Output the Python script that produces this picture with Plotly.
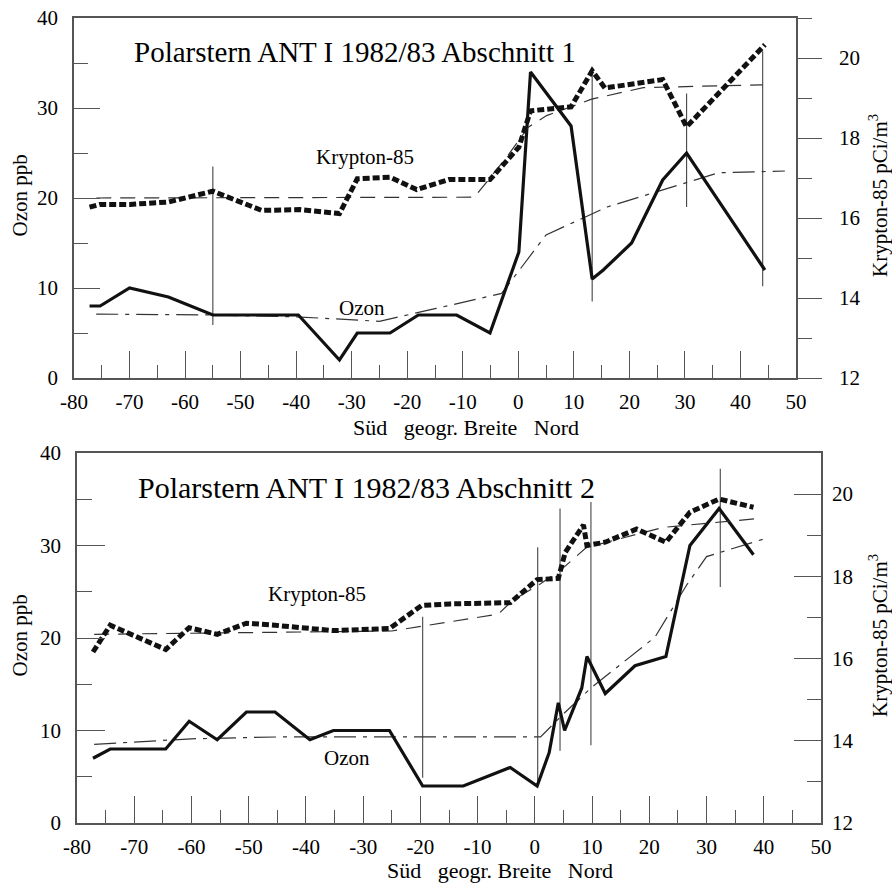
import plotly.graph_objects as go

# ---------------- Data: Abschnitt 1 (top) ----------------
oz1_lat = [-77.2, -75.3, -70.0, -63.0, -55.0, -39.6, -32.2, -29.0, -23.1, -18.0, -11.1, -5.1,
           0.1, 2.2, 9.5, 13.3, 15.3, 20.4, 26.0, 30.3, 44.4]
oz1 = [8, 8, 10, 9, 7, 7, 2, 5, 5, 7, 7, 5, 14, 34, 28, 11, 12, 15, 22, 25, 12]

kr1_lat = [-77.2, -75.3, -69.9, -63.0, -55.0, -46.2, -39.3, -32.2, -29.0, -23.1, -18.3, -12.5,
           -5.1, 0.1, 2.2, 9.5, 13.3, 15.6, 26.0, 30.3, 44.4]
kr1 = [16.27, 16.34, 16.34, 16.40, 16.67, 16.19, 16.21, 16.11, 16.98, 17.02, 16.71, 16.96,
       16.96, 17.77, 18.68, 18.78, 19.68, 19.25, 19.46, 18.28, 20.33]

oz1_trend_lat = [-76, -55, -40, -25, -15, -3, 5, 16, 36, 48]
oz1_trend = [7.1, 7.0, 6.8, 6.3, 7.7, 9.4, 15.9, 19.0, 22.8, 23.0]

kr1_trend_lat = [-76, -7.9, -2.1, 1.8, 5.1, 13.2, 22.5, 44]
kr1_trend = [16.5, 16.52, 17.52, 18.27, 18.56, 18.97, 19.26, 19.33]

bar1_lat = [-55.0, 13.3, 30.3, 44.0]
bar1_lo = [5.9, 8.5, 19.0, 10.2]
bar1_hi = [23.5, 34.4, 31.6, 36.3]

# ---------------- Data: Abschnitt 2 (bottom) ----------------
oz2_lat = [-77.2, -74.2, -64.5, -60.4, -55.5, -50.4, -45.4, -39.3, -35.2, -25.4, -19.6, -12.5,
           -4.3, 0.4, 2.5, 4.1, 5.2, 8.2, 9.1, 12.3, 17.5, 22.9, 27.1, 32.2, 38.2]
oz2 = [7, 8, 8, 11, 9, 12, 12, 9, 10, 10, 4, 4, 6, 4, 7.6, 13, 10, 14.6, 18, 14, 17, 18, 30, 34, 29]

kr2_lat = [-77.2, -74.2, -64.5, -60.4, -55.5, -50.4, -45.4, -39.3, -35.2, -25.4, -19.8, -14.8,
           -4.3, 0.4, 4.1, 5.3, 8.5, 9.1, 12.3, 17.8, 22.9, 27.1, 32.2, 38.2]
kr2 = [16.16, 16.81, 16.22, 16.75, 16.59, 16.86, 16.81, 16.75, 16.68, 16.73, 17.29, 17.33,
       17.36, 17.92, 17.95, 18.58, 19.25, 18.75, 18.83, 19.15, 18.83, 19.56, 19.88, 19.68]

oz2_trend_lat = [-77, -60, -45, 1, 5, 10, 21, 26.5, 30, 40]
oz2_trend = [8.5, 9.1, 9.3, 9.3, 11.8, 14.7, 20.1, 25.7, 28.8, 30.7]

kr2_trend_lat = [-77, -25, -6.4, -4.0, 1.0, 4.4, 9.0, 22.4, 38.5]
kr2_trend = [16.59, 16.67, 17.08, 17.4, 17.82, 18.14, 18.7, 19.19, 19.4]

bar2_lat = [-19.6, 0.5, 4.4, 9.8, 32.4]
bar2_lo = [4.9, 4.1, 7.8, 8.4, 25.5]
bar2_hi = [22.3, 29.8, 34.0, 34.7, 38.3]

# ---------------- Tick labels ----------------
x_tickvals = [-80, -70, -60, -50, -40, -30, -20, -10, 0, 10, 20, 30, 40, 50]
x_ticklabels = ["-80", "-70", "-60", "-50", "-40", "-30", "-20", "-10", "0", "10", "20", "30", "40", "50"]
ozon_tickvals = [0, 10, 20, 30, 40]
ozon_ticklabels = ["0", "10", "20", "30", "40"]
kr_tickvals = [12, 14, 16, 18, 20]
kr_ticklabels = ["12", "14", "16", "18", "20"]

titles = ["Polarstern ANT I 1982/83 Abschnitt 1", "Polarstern ANT I 1982/83 Abschnitt 2"]
x_title = "Süd\u00a0\u00a0\u00a0geogr. Breite\u00a0\u00a0\u00a0Nord"
y_left_title = "Ozon ppb"
y_right_title = "Krypton-85 pCi/m<sup>3</sup>"

FONT = "Liberation Serif"
AX = "#555555"
INK = "#111111"


def bars(lat, lo, hi):
    xs, ys = [], []
    for x, a, b in zip(lat, lo, hi):
        xs += [x, x, None]
        ys += [a, b, None]
    return xs, ys


fig = go.Figure()

for (xa, ya, yb, ol, o, kl, k, otl, ot, ktl, kt, bl, blo, bhi) in [
    ("x", "y", "y2", oz1_lat, oz1, kr1_lat, kr1, oz1_trend_lat, oz1_trend, kr1_trend_lat, kr1_trend,
     bar1_lat, bar1_lo, bar1_hi),
    ("x2", "y3", "y4", oz2_lat, oz2, kr2_lat, kr2, oz2_trend_lat, oz2_trend, kr2_trend_lat, kr2_trend,
     bar2_lat, bar2_lo, bar2_hi),
]:
    bx, by = bars(bl, blo, bhi)
    fig.add_trace(go.Scatter(x=bx, y=by, xaxis=xa, yaxis=ya, mode="lines",
                             line=dict(color="#444444", width=1.1), showlegend=False,
                             hoverinfo="skip"))
    fig.add_trace(go.Scatter(x=otl, y=ot, xaxis=xa, yaxis=ya, mode="lines",
                             line=dict(color="#333333", width=1.2, dash="22px,7px,4px,7px"),
                             showlegend=False))
    fig.add_trace(go.Scatter(x=ktl, y=kt, xaxis=xa, yaxis=yb, mode="lines",
                             line=dict(color="#333333", width=1.2, dash="15px,9px"),
                             showlegend=False))
    fig.add_trace(go.Scatter(x=ol, y=o, xaxis=xa, yaxis=ya, mode="lines", name="Ozon",
                             line=dict(color=INK, width=3.2), showlegend=False))
    fig.add_trace(go.Scatter(x=kl, y=k, xaxis=xa, yaxis=yb, mode="lines", name="Krypton-85",
                             line=dict(color=INK, width=5, dash="7px,3px"), showlegend=False))

W, H = 892, 886
tickfont = dict(family=FONT, size=21, color="black")


def xax(domain, anchor):
    return dict(domain=domain, anchor=anchor, range=[-80, 50], tickmode="array",
                tickvals=x_tickvals, ticktext=x_ticklabels,
                ticks="inside", ticklen=27, tickwidth=1.2, tickcolor=AX,
                minor=dict(dtick=5, tick0=-80, ticks="inside", ticklen=13, tickwidth=1.2, tickcolor=AX),
                showline=True, linecolor=AX, linewidth=1.5, mirror=True,
                showgrid=False, zeroline=False, tickfont=tickfont, automargin=False,
                ticklabelstandoff=4)


def yleft(domain, anchor, tl, ml):
    return dict(domain=domain, anchor=anchor, range=[0, 40], tickmode="array",
                tickvals=ozon_tickvals, ticktext=ozon_ticklabels,
                ticks="inside", ticklen=tl, tickwidth=1.2, tickcolor=AX,
                minor=dict(dtick=5, tick0=0, ticks="inside", ticklen=ml, tickwidth=1.2, tickcolor=AX),
                showline=True, linecolor=AX, linewidth=1.5,
                showgrid=False, zeroline=False, tickfont=tickfont, automargin=False,
                ticklabelstandoff=10)


def yright(over, anchor, where, tl, ml, standoff):
    return dict(overlaying=over, anchor=anchor, side="right", range=[12, 21], tickmode="array",
                tickvals=kr_tickvals, ticktext=kr_ticklabels,
                ticks=where, ticklen=tl, tickwidth=1.2, tickcolor=AX,
                minor=dict(dtick=1, tick0=12, ticks=where, ticklen=ml, tickwidth=1.2, tickcolor=AX),
                showline=True, linecolor=AX, linewidth=1.5,
                showgrid=False, zeroline=False, tickfont=tickfont, automargin=False,
                ticklabelstandoff=standoff)


top_x = [74 / W, 796 / W]
top_y = [1 - 378 / H, 1 - 18 / H]
bot_x = [77 / W, 821 / W]
bot_y = [1 - 823 / H, 1 - 453 / H]

fig.update_layout(
    width=W, height=H, template="none",
    margin=dict(l=0, r=0, t=0, b=0),
    paper_bgcolor="white", plot_bgcolor="white",
    font=dict(family=FONT, color="black"),
    showlegend=False,
    xaxis=xax(top_x, "y"),
    yaxis=yleft(top_y, "x", 26, 14),
    yaxis2=yright("y", "x", "outside", 24, 14, 13),
    xaxis2=xax(bot_x, "y3"),
    yaxis3=yleft(bot_y, "x2", 28, 15),
    yaxis4=yright("y3", "x2", "inside", 27, 14, 5),
)

ann = []
tf = dict(family=FONT, color="black")


def note(text, x, y, size, xref="paper", yref="paper", angle=0):
    if xref == "paper":
        x = x / W
    if yref == "paper":
        y = 1 - y / H
    return dict(text=text, x=x, y=y, xref=xref, yref=yref, xanchor="center", yanchor="middle",
                textangle=angle, showarrow=False, font=dict(size=size, **tf))


ann.append(note(titles[0], 355, 52, 29))
ann.append(note(titles[1], 366, 487, 30))
for yc in (196, 636):
    ann.append(note(y_left_title, 19.5, yc, 21, angle=-90))
    ann.append(note(y_right_title, 878, yc, 21, angle=-90))
ann.append(note(x_title, 466, 428, 22))
ann.append(note(x_title, 500, 870, 22))
ann.append(note("Krypton-85", -27.6, 24.6, 21, "x", "y"))
ann.append(note("Ozon", -28.1, 7.8, 21, "x", "y"))
ann.append(note("Krypton-85", -38.1, 24.8, 21, "x2", "y3"))
ann.append(note("Ozon", -32.9, 7.0, 21, "x2", "y3"))
fig.update_layout(annotations=ann)

fig.write_html("out.html", config={"displayModeBar": False},
               post_script="document.body.style.margin='0';document.body.style.overflow='hidden';")
